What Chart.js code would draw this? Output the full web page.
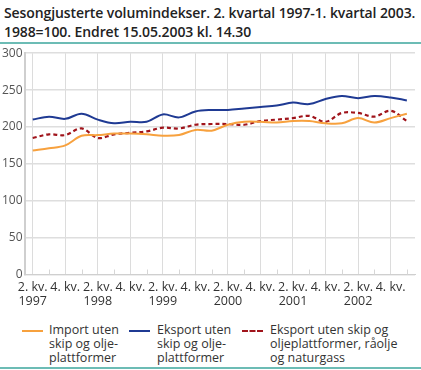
<!DOCTYPE html>
<html>
<head>
<meta charset="utf-8">
<script src="https://cdn.jsdelivr.net/npm/chart.js@4/dist/chart.umd.min.js"></script>
<style>
  html, body { margin: 0; padding: 0; background: #fff; }
  body { width: 421px; height: 370px; position: relative; overflow: hidden; font-family: "Open Sans", "DejaVu Sans", sans-serif; color: #222; }
  #title { position: absolute; left: 4px; top: 3px; font-size: 14px; line-height: 19px; font-weight: 600; letter-spacing: -0.1px; }
  .rule { position: absolute; left: 0; width: 421px; height: 2px; background: #6cbcb5; }
  #wrap { position: absolute; left: 0; top: 44px; width: 421px; height: 270px; }
  #legend { position: absolute; top: 323px; left: 0; width: 421px; font-size: 12.5px; line-height: 14px; color: #333; }
  .item { position: absolute; top: 0; }
  .swatch { position: absolute; top: 7px; width: 21px; height: 0; border-top: 2px solid; }
  .txt { position: absolute; top: 0; white-space: nowrap; }
</style>
</head>
<body>
<div id="title">Sesongjusterte volumindekser. 2. kvartal 1997-1. kvartal 2003.<br>1988=100. Endret 15.05.2003 kl. 14.30</div>
<div class="rule" style="top:42px"></div>
<div id="wrap"><canvas id="c"></canvas></div>
<div id="legend">
  <div class="item" style="left:22px"><div class="swatch" style="border-color:#f7a13e"></div><div class="txt" style="left:27px">Import uten<br>skip og olje-<br>plattformer</div></div>
  <div class="item" style="left:129px"><div class="swatch" style="border-color:#1f3a93"></div><div class="txt" style="left:28px">Eksport uten<br>skip og olje-<br>plattformer</div></div>
  <div class="item" style="left:242px"><div class="swatch" style="border-top:2px dashed #a0141b"></div><div class="txt" style="left:28px">Eksport uten skip og<br>oljeplattformer, råolje<br>og naturgass</div></div>
</div>
<div class="rule" style="top:367px"></div>
<script>
// quarters 1997 Q2 .. 2003 Q1
const quarters = ["2. kv. 1997", "3. kv. 1997", "4. kv. 1997",
  "1. kv. 1998", "2. kv. 1998", "3. kv. 1998", "4. kv. 1998",
  "1. kv. 1999", "2. kv. 1999", "3. kv. 1999", "4. kv. 1999",
  "1. kv. 2000", "2. kv. 2000", "3. kv. 2000", "4. kv. 2000",
  "1. kv. 2001", "2. kv. 2001", "3. kv. 2001", "4. kv. 2001",
  "1. kv. 2002", "2. kv. 2002", "3. kv. 2002", "4. kv. 2002",
  "1. kv. 2003"];

const importVals = [168, 171, 175, 188, 189, 191, 191, 190, 188, 189, 196, 195,
  203, 207, 207, 206, 208, 208, 205, 205, 212, 206, 212, 218];
const eksportVals = [210, 214, 211, 218, 210, 205, 207, 207, 217, 213, 221, 223,
  223, 225, 227, 229, 233, 231, 238, 242, 239, 242, 240, 236];
const eksportUtenOljeVals = [185, 190, 189, 198, 185, 190, 192, 194, 199, 198, 203, 204,
  204, 203, 208, 210, 212, 215, 207, 219, 219, 214, 222, 208];

const yTicks = [0, 50, 100, 150, 200, 250, 300];

// x labels: every second quarter, year under the "2. kv." ones
function xLabel(i) {
  if (i % 2 === 1 || i === quarters.length - 1) return "";
  const [q, kv, yr] = quarters[i].split(" ");
  return q === "2." ? [q + " " + kv, yr] : [q + " " + kv, ""];
}

// short tick marks at the unlabelled quarters
const minorTicks = {
  id: "minorTicks",
  afterDatasetsDraw(chart) {
    const x = chart.scales.x, y = chart.scales.y;
    const ctx = chart.ctx;
    ctx.save();
    ctx.strokeStyle = "#d6d6d6";
    ctx.lineWidth = 1;
    for (let i = 1; i < quarters.length; i += 2) {
      const px = Math.round(x.getPixelForTick(i)) + 0.5;
      ctx.beginPath();
      ctx.moveTo(px, y.bottom);
      ctx.lineTo(px, y.bottom - 5);
      ctx.stroke();
    }
    ctx.restore();
  }
};

new Chart(document.getElementById("c"), {
  type: "line",
  data: {
    labels: quarters,
    datasets: [
      { label: "Import uten skip og oljeplattformer", data: importVals,
        borderColor: "#f7a13e", borderWidth: 2, pointRadius: 0, tension: 0.35 },
      { label: "Eksport uten skip og oljeplattformer", data: eksportVals,
        borderColor: "#1f3a93", borderWidth: 2, pointRadius: 0, tension: 0.35 },
      { label: "Eksport uten skip og oljeplattformer, råolje og naturgass", data: eksportUtenOljeVals,
        borderColor: "#a0141b", borderWidth: 2.2, borderDash: [4, 3], pointRadius: 0, tension: 0.35 }
    ]
  },
  options: {
    responsive: true,
    maintainAspectRatio: false,
    animation: false,
    layout: { padding: { left: 0, right: 6, top: 2, bottom: 0 } },
    plugins: { legend: { display: false }, tooltip: { enabled: false } },
    scales: {
      x: {
        offset: true,
        grid: {
          offset: false,
          drawTicks: false,
          color: (c) => (c.index % 2 === 0 && c.index < quarters.length - 1 ? "#dcdcdc" : "rgba(0,0,0,0)"),
          lineWidth: 1
        },
        border: { color: "#cfcfcf", width: 1 },
        ticks: {
          autoSkip: false,
          maxRotation: 0,
          padding: 6,
          color: "#333",
          font: { family: "'Open Sans', 'DejaVu Sans', sans-serif", size: 12.5, lineHeight: 1.1 },
          callback: (v, i) => xLabel(i)
        }
      },
      y: {
        min: yTicks[0],
        max: yTicks[yTicks.length - 1],
        afterBuildTicks: (s) => { s.ticks = yTicks.map((v) => ({ value: v })); },
        grid: { color: "#dedede", lineWidth: 1.5, drawTicks: false },
        border: { color: "#cfcfcf", width: 2 },
        ticks: {
          padding: 2,
          color: "#555",
          font: { family: "'Open Sans', 'DejaVu Sans', sans-serif", size: 12 }
        }
      }
    }
  },
  plugins: [minorTicks]
});
</script>
</body>
</html>
